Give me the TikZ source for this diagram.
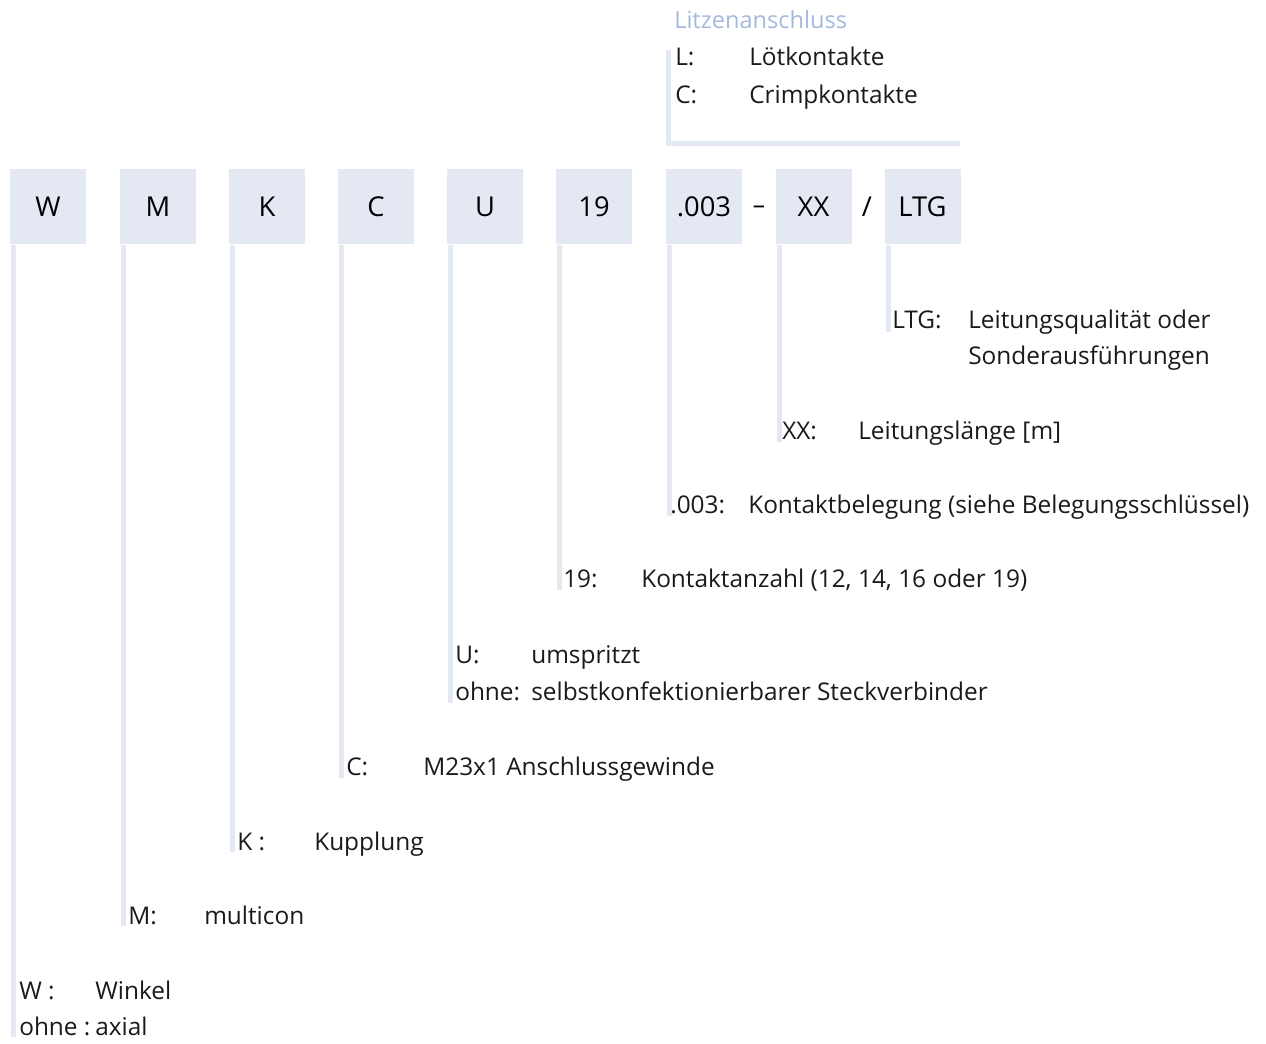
\documentclass[tikz,border=0pt]{standalone}
\usepackage{fontspec}
\setmainfont{Open Sans}
\definecolor{boxc}{HTML}{E4E8F2}
\definecolor{headc}{HTML}{A3BADE}
\definecolor{txtc}{HTML}{1A1A1A}
\begin{document}
\begin{tikzpicture}[x=0.75pt,y=-0.75pt,
  box/.style={fill=boxc, minimum width=57pt, minimum height=56.25pt, inner sep=0pt,
    font=\fontsize{20.5}{24}\selectfont, text=black, text height=14.6pt, text depth=0pt},
  sep/.style={inner sep=0pt, font=\fontsize{20.5}{24}\selectfont, text=black, text height=14.6pt, text depth=0pt},
  stem/.style={draw=boxc, line width=3.75pt},
  lab/.style={anchor=base west, inner sep=0pt, font=\fontsize{18.3}{22}\selectfont, text=txtc},
  head/.style={anchor=base west, inner sep=0pt, font=\fontsize{17.7}{21}\selectfont, text=headc}]
\useasboundingbox (0,0) rectangle (1266,1043);

% code boxes
\node[box] (bW) at (48,206.5) {W};
\node[box] (bM) at (158,206.5) {M};
\node[box] (bK) at (267,206.5) {K};
\node[box] (bC) at (376,206.5) {C};
\node[box] (bU) at (485,206.5) {U};
\node[box] (b19) at (594,206.5) {19};
\node[box] (b003) at (704,206.5) {.003};
\node[box] (bXX) at (813.5,206.5) {XX};
\node[box] (bLTG) at (922.5,206.5) {LTG};
\node[sep, font=\fontsize{18.3}{22}\selectfont, text height=13pt] (dash) at (759,205) {–};
\node[sep] (slash) at (867,206.5) {/};

% top: Litzenanschluss
\node[head] (hLitz) at (674,28) {Litzenanschluss};
\node[lab] (kL) at (675,65) {L:};
\node[lab] (vL) at (749,65) {Lötkontakte};
\node[lab] (kC2) at (675,103) {C:};
\node[lab] (vC2) at (749,103) {Crimpkontakte};
\coordinate (brA) at (668,50);
\coordinate (brB) at (668,143);
\coordinate (brC) at (960,143);
\draw[stem] (brA) -- (brB) -- (brC);

% labels
\node[lab] (kLTG) at (892,328) {LTG:};
\node[lab] (vLTG) at (968,328) {Leitungsqualität oder};
\node[lab] (vLTG2) at (968,364) {Sonderausführungen};

\node[lab] (kXX) at (782,439) {XX:};
\node[lab] (vXX) at (858,439) {Leitungslänge [m]};

\node[lab] (k003) at (670,513) {.003:};
\node[lab] (v003) at (748,513) {Kontaktbelegung (siehe Belegungsschlüssel)};

\node[lab] (k19) at (563,587) {19:};
\node[lab] (v19) at (641,587) {Kontaktanzahl (12, 14, 16 oder 19)};

\node[lab] (kU) at (455,663) {U:};
\node[lab] (vU) at (531,663) {umspritzt};
\node[lab] (kU2) at (455,700) {ohne:};
\node[lab] (vU2) at (531,700) {selbstkonfektionierbarer Steckverbinder};

\node[lab] (kC) at (346,775) {C:};
\node[lab] (vC) at (423,775) {M23x1 Anschlussgewinde};

\node[lab] (kK) at (237,850) {K :};
\node[lab] (vK) at (314,850) {Kupplung};

\node[lab] (kM) at (128,924) {M:};
\node[lab] (vM) at (204,924) {multicon};

\node[lab] (kW) at (19,999) {W :};
\node[lab] (vW) at (95,999) {Winkel};
\node[lab] (kW2) at (19,1035) {ohne :};
\node[lab] (vW2) at (95,1035) {axial};

% stem ends
\coordinate (eW) at (13.5,1037);
\coordinate (eM) at (123.5,926);
\coordinate (eK) at (232.5,852);
\coordinate (eC) at (341.5,778);
\coordinate (eU) at (450.5,703);
\coordinate (e19) at (559.5,590);
\coordinate (e003) at (669.5,516);
\coordinate (eXX) at (779,442);
\coordinate (eLTG) at (888,332);

\foreach \b/\e in {bW/eW,bM/eM,bK/eK,bC/eC,bU/eU,b19/e19,b003/e003,bXX/eXX,bLTG/eLTG}
  \draw[stem] ([yshift=-0.75pt]\b.south -| \e) -- (\e);
\end{tikzpicture}
\end{document}
